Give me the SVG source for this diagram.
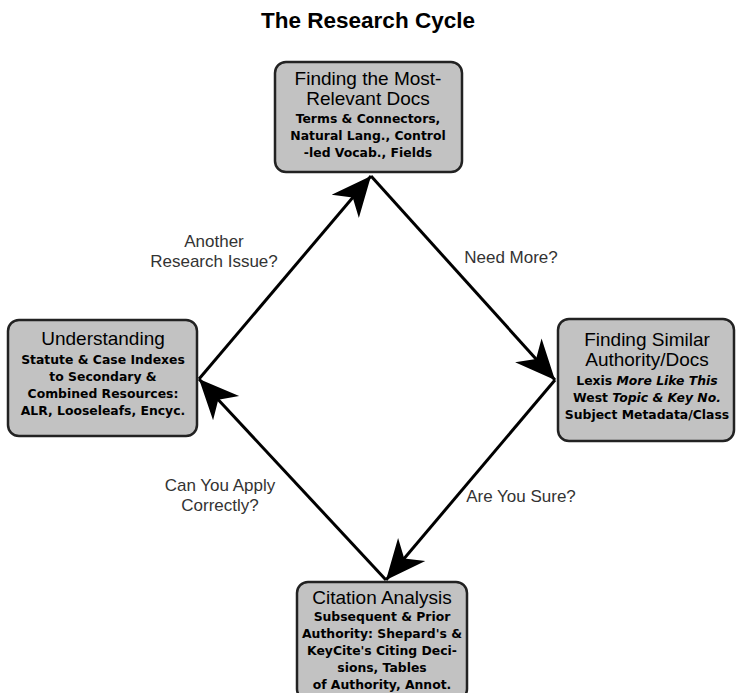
<svg xmlns="http://www.w3.org/2000/svg" width="737" height="693" viewBox="0 0 737 693">
<style>
.box{fill:#c2c2c2;stroke:#222;stroke-width:2.5}
.h{font-family:"Liberation Sans",Arial,sans-serif;font-size:19px;fill:#000;text-anchor:middle}
.s{font-family:"DejaVu Sans",Verdana,sans-serif;font-size:12.4px;font-weight:bold;fill:#000;text-anchor:middle}
.lbl{font-family:"Liberation Sans",Arial,sans-serif;font-size:17px;fill:#333;text-anchor:middle}
.title{font-family:"Liberation Sans",Arial,sans-serif;font-size:22.5px;font-weight:bold;fill:#000;text-anchor:middle}
.conn{stroke:#000;stroke-width:3;fill:none;marker-end:url(#ah)}
</style>
<defs>
<marker id="ah" markerUnits="userSpaceOnUse" markerWidth="44" markerHeight="44" viewBox="-40 -20 42 40" refX="0" refY="0" orient="auto">
<path d="M0,0 L-38,-17 L-27,0 L-38,17 Z" fill="#000"/>
</marker>
</defs>
<rect width="737" height="693" fill="#fff"/>
<text class="title" x="368" y="28">The Research Cycle</text>
<g id="connectors">
<line class="conn" x1="371" y1="176" x2="555" y2="380"/>
<line class="conn" x1="555" y1="380" x2="386" y2="580"/>
<line class="conn" x1="386" y1="580" x2="199" y2="379"/>
<line class="conn" x1="199" y1="379" x2="371" y2="176"/>
</g>
<g id="labels">
<text class="lbl" x="214" y="247">Another</text>
<text class="lbl" x="214" y="267">Research Issue?</text>
<text class="lbl" x="511" y="263">Need More?</text>
<text class="lbl" x="220" y="491">Can You Apply</text>
<text class="lbl" x="220" y="511">Correctly?</text>
<text class="lbl" x="521" y="502">Are You Sure?</text>
</g>
<g id="node-top">
<rect class="box" x="275" y="62" width="187" height="110" rx="11"/>
<text class="h" x="368" y="85">Finding the Most-</text>
<text class="h" x="368" y="105">Relevant Docs</text>
<text class="s" x="368" y="123">Terms &amp; Connectors,</text>
<text class="s" x="368" y="140">Natural Lang., Control</text>
<text class="s" x="368" y="157">-led Vocab., Fields</text>
</g>
<g id="node-left">
<rect class="box" x="8" y="320" width="189" height="116" rx="11"/>
<text class="h" x="103" y="345">Understanding</text>
<text class="s" x="103" y="364">Statute &amp; Case Indexes</text>
<text class="s" x="103" y="381">to Secondary &amp;</text>
<text class="s" x="103" y="398">Combined Resources:</text>
<text class="s" x="103" y="415">ALR, Looseleafs, Encyc.</text>
</g>
<g id="node-right">
<rect class="box" x="558" y="319" width="176" height="122" rx="11"/>
<text class="h" x="647" y="346">Finding Similar</text>
<text class="h" x="647" y="366">Authority/Docs</text>
<text class="s" x="647" y="385">Lexis <tspan font-style="italic">More Like This</tspan></text>
<text class="s" x="647" y="402">West <tspan font-style="italic">Topic &amp; Key No.</tspan></text>
<text class="s" x="647" y="419">Subject Metadata/Class</text>
</g>
<g id="node-bottom">
<rect class="box" x="297" y="582" width="170" height="118" rx="11"/>
<text class="h" x="382" y="604">Citation Analysis</text>
<text class="s" x="382" y="621">Subsequent &amp; Prior</text>
<text class="s" x="382" y="638">Authority: Shepard's &amp;</text>
<text class="s" x="382" y="655">KeyCite's Citing Deci-</text>
<text class="s" x="382" y="672">sions, Tables</text>
<text class="s" x="382" y="689">of Authority, Annot.</text>
</g>
</svg>
